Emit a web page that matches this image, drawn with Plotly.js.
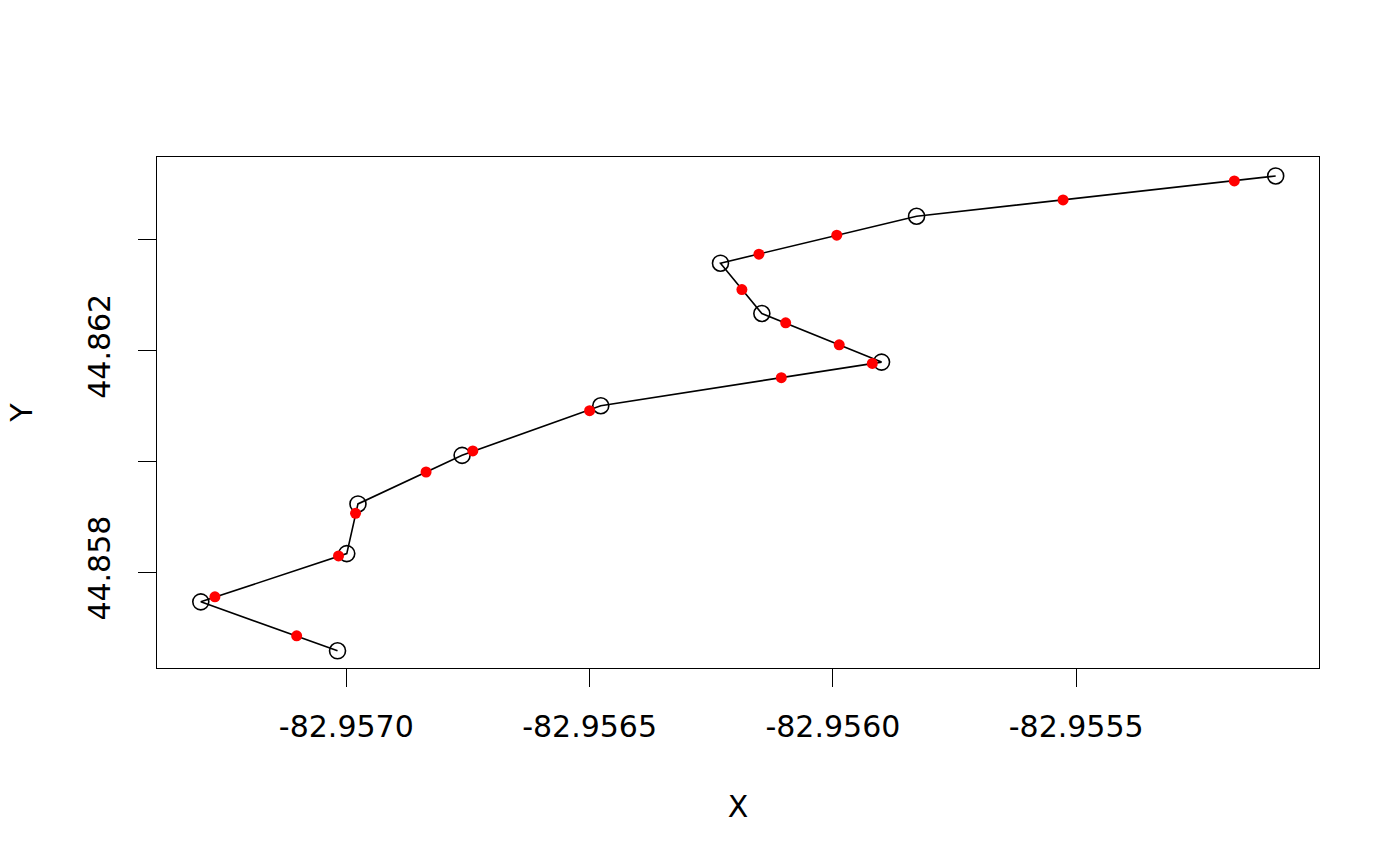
<!DOCTYPE html>
<html>
<head>
<meta charset="utf-8">
<script src="https://cdn.plot.ly/plotly-3.0.1.min.js"></script>
<style>html,body{margin:0;padding:0;background:#fff;}#chart{width:1400px;height:866px;}</style>
</head>
<body>
<div id="chart"></div>
<script>
// Track points (open circles), in path order
var trackX = [-82.957018, -82.957299, -82.956999, -82.956976, -82.956762, -82.956477,
              -82.955900, -82.956146, -82.956231, -82.955828, -82.955090];
var trackY = [44.856589, 44.857472, 44.858342, 44.859238, 44.860114, 44.861009,
              44.861796, 44.862672, 44.863580, 44.864427, 44.865153];

// Sampled points (red dots)
var sampleX = [-82.957102, -82.957270, -82.957016, -82.956981, -82.956836, -82.956740,
               -82.956500, -82.956106, -82.955919, -82.955987, -82.956097, -82.956187,
               -82.956152, -82.955992, -82.955527, -82.955175];
var sampleY = [44.856859, 44.857562, 44.858301, 44.859068, 44.859814, 44.860193,
               44.860919, 44.861514, 44.861771, 44.862108, 44.862505, 44.863105,
               44.863742, 44.864085, 44.864721, 44.865063];

var xTicks = [-82.9570, -82.9565, -82.9560, -82.9555];
var xTickLabels = ["-82.9570", "-82.9565", "-82.9560", "-82.9555"];
var yTicks = [44.858, 44.860, 44.862, 44.864];
var yTickLabels = ["44.858", "", "44.862", ""];

var font = {family: "DejaVu Sans", size: 30, color: "#000"};

var traces = [
  {
    x: trackX, y: trackY, type: "scatter", mode: "lines+markers",
    line: {color: "#000", width: 1.6},
    marker: {symbol: "circle-open", size: 16, color: "#000", line: {width: 1.6, color: "#000"}},
    hoverinfo: "x+y", showlegend: false
  },
  {
    x: sampleX, y: sampleY, type: "scatter", mode: "markers",
    marker: {symbol: "circle", size: 11, color: "#ff0000", line: {width: 0}},
    hoverinfo: "x+y", showlegend: false
  }
];

var layout = {
  width: 1400, height: 866,
  margin: {l: 157, r: 80.5, t: 157, b: 197.5, pad: 0},
  paper_bgcolor: "#fff", plot_bgcolor: "#fff",
  font: font,
  showlegend: false,
  xaxis: {
    range: [-82.957389, -82.955001],
    tickmode: "array", tickvals: xTicks, ticktext: xTickLabels,
    ticks: "outside", ticklen: 18, tickwidth: 1.2, tickcolor: "#000",
    ticklabelstandoff: 14,
    showline: true, mirror: true, linecolor: "#000", linewidth: 1.4,
    showgrid: false, zeroline: false,
    tickfont: font,
    title: {text: "X", font: font, standoff: 52}
  },
  yaxis: {
    range: [44.856279, 44.865495],
    tickmode: "array", tickvals: yTicks, ticktext: yTickLabels,
    tickangle: -90,
    ticks: "outside", ticklen: 18, tickwidth: 1.2, tickcolor: "#000",
    ticklabelstandoff: 16,
    showline: true, mirror: true, linecolor: "#000", linewidth: 1.4,
    showgrid: false, zeroline: false,
    tickfont: font,
    title: {text: "Y", font: font, standoff: 40}
  }
};

Plotly.newPlot("chart", traces, layout, {staticPlot: true, displayModeBar: false});
</script>
</body>
</html>
